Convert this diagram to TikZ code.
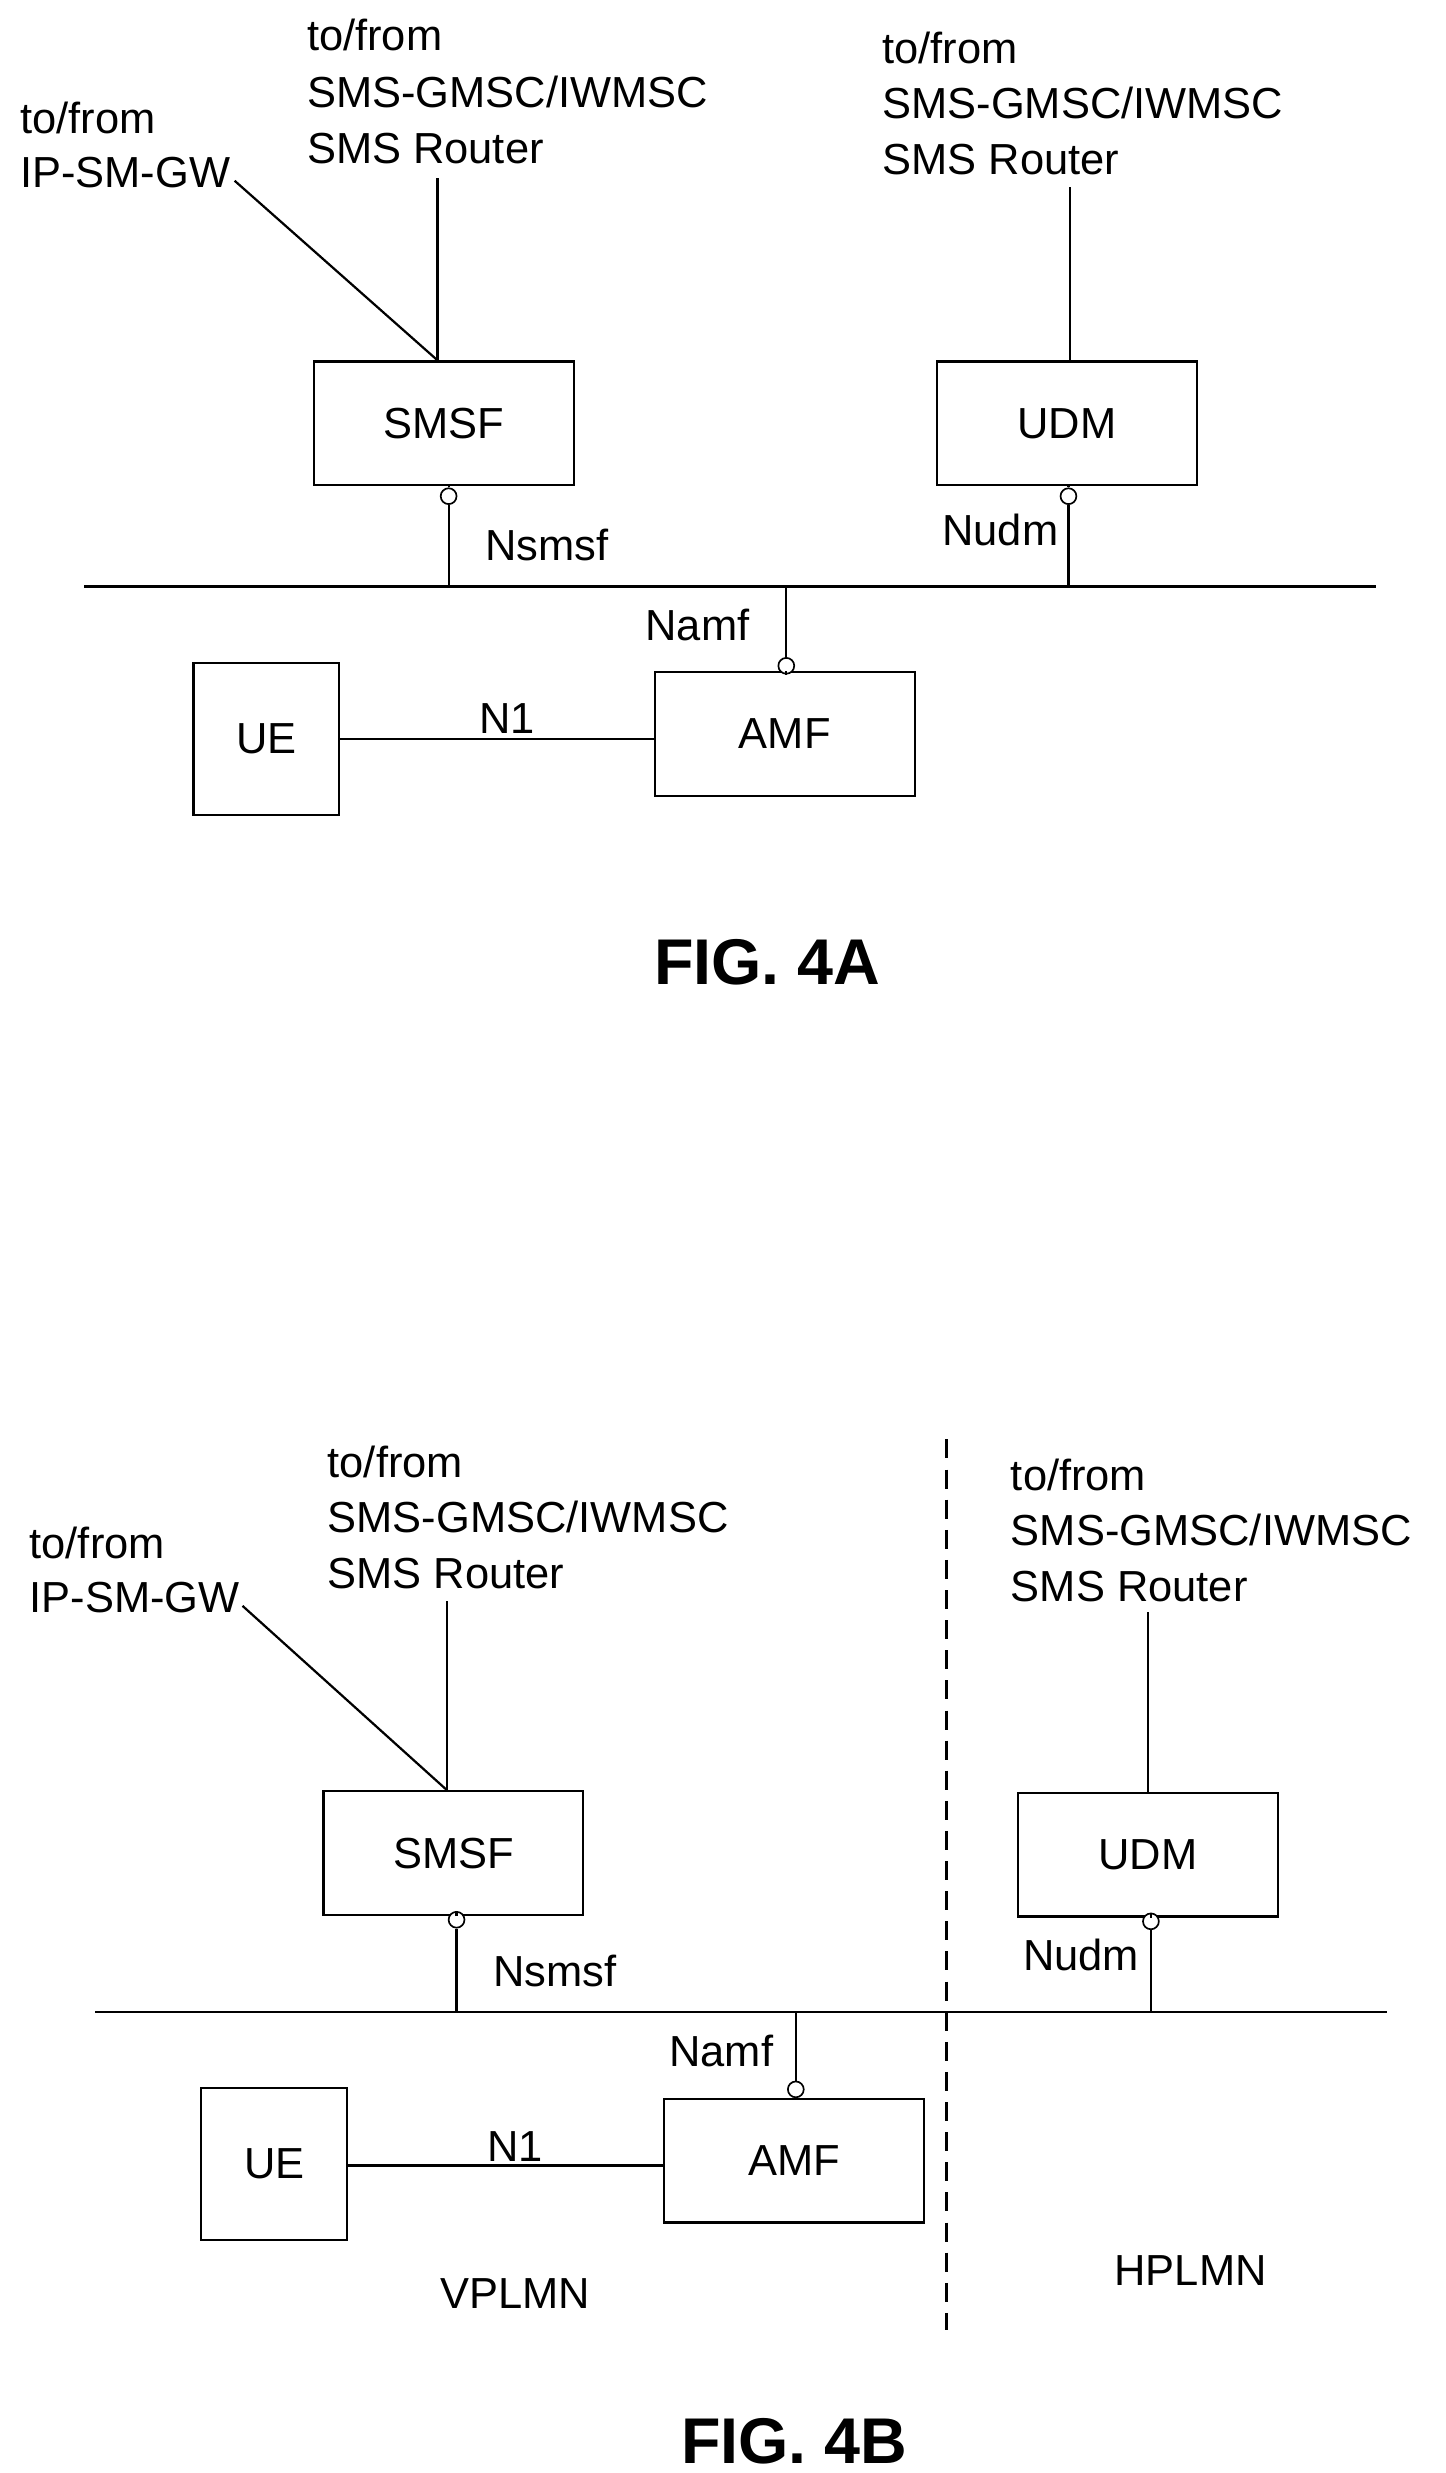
\documentclass[tikz,border=0pt]{standalone}
\usepackage{fontspec}
\setmainfont{Liberation Sans}
\begin{document}
\begin{tikzpicture}[x=0.05cm,y=-0.05cm,line width=2pt,
  box/.style={draw,minimum width=8.2cm,minimum height=3.9cm,font=\fontsize{39}{48}\selectfont},
  ue/.style={draw,minimum width=4.6cm,minimum height=4.8cm,font=\fontsize{39}{48}\selectfont},
  txt/.style={anchor=base west,inner sep=0,font=\fontsize{39}{48}\selectfont},
  lbl/.style={inner sep=0,font=\fontsize{39}{48}\selectfont},
  sock/.style={draw,circle,fill=white,minimum size=0.5cm,inner sep=0,line width=1.5pt},
  fig/.style={inner sep=0,font=\fontsize{58}{64}\selectfont\bfseries}]
\useasboundingbox (0,0) rectangle (912,1560);
% ---------- FIG 4A ----------
\node[txt] (a1) at (12,84) {to/from};
\node[txt] (a2) at (12,118) {IP-SM-GW};
\node[txt] (a3) at (193,32) {to/from};
\node[txt] (a4) at (193,68) {SMS-GMSC/IWMSC};
\node[txt] (a5) at (193,103) {SMS Router};
\node[txt] (a6) at (556,40) {to/from};
\node[txt] (a7) at (556,75) {SMS-GMSC/IWMSC};
\node[txt] (a8) at (556,110) {SMS Router};
\node[box] (smsfA) at (280,267) {SMSF};
\node[box] (udmA) at (673,267) {UDM};
\node[box] (amfA) at (495,463) {AMF};
\node[ue] (ueA) at (168,466) {UE};
\coordinate (tA1) at (276,112);
\coordinate (tA2) at (148,114);
\coordinate (tA3) at (675,118);
\draw (smsfA.north -| tA1) -- (tA1);
\draw (smsfA.north -| tA1) -- (tA2);
\draw (udmA.north -| tA3) -- (tA3);
\coordinate (busAl) at (53,370);
\coordinate (busAr) at (868,370);
\draw (busAl) -- (busAr);
\node[sock] (cA1) at (283,313) {};
\node[sock] (cA2) at (674,313) {};
\node[sock] (cA3) at (496,420) {};
\draw (smsfA.south -| cA1) -- (cA1.north);
\draw (cA1.south) -- (cA1 |- busAl);
\draw (udmA.south -| cA2) -- (cA2.north);
\draw (cA2.south) -- (cA2 |- busAl);
\draw (cA3.north) -- (cA3 |- busAl);
\draw (amfA.north -| cA3) -- (cA3.south);
\draw (ueA.east |- 0,466) -- (amfA.west |- 0,466);
\node[lbl] (n1A) at (320,453) {N1};
\node[lbl] (nsA) at (345,344) {Nsmsf};
\node[lbl] (nuA) at (631,334) {Nudm};
\node[lbl] (naA) at (440,394) {Namf};
\node[fig] (figA) at (484,607) {FIG. 4A};
% ---------- FIG 4B ----------
\node[txt] (b1) at (18,983) {to/from};
\node[txt] (b2) at (18,1017) {IP-SM-GW};
\node[txt] (b3) at (206,932) {to/from};
\node[txt] (b4) at (206,967) {SMS-GMSC/IWMSC};
\node[txt] (b5) at (206,1002) {SMS Router};
\node[txt] (b6) at (637,940) {to/from};
\node[txt] (b7) at (637,975) {SMS-GMSC/IWMSC};
\node[txt] (b8) at (637,1010) {SMS Router};
\node[box] (smsfB) at (286,1169) {SMSF};
\node[box] (udmB) at (724,1170) {UDM};
\node[box] (amfB) at (501,1363) {AMF};
\node[ue] (ueB) at (173,1365) {UE};
\coordinate (tB1) at (282,1010);
\coordinate (tB2) at (153,1013);
\coordinate (tB3) at (724,1017);
\draw (smsfB.north -| tB1) -- (tB1);
\draw (smsfB.north -| tB1) -- (tB2);
\draw (udmB.north -| tB3) -- (tB3);
\coordinate (busBl) at (60,1269);
\coordinate (busBr) at (875,1269);
\draw (busBl) -- (busBr);
\node[sock] (cB1) at (288,1211) {};
\node[sock] (cB2) at (726,1212) {};
\node[sock] (cB3) at (502,1318) {};
\draw (smsfB.south -| cB1) -- (cB1.north);
\draw (cB1.south) -- (cB1 |- busBl);
\draw (udmB.south -| cB2) -- (cB2.north);
\draw (cB2.south) -- (cB2 |- busBl);
\draw (cB3.north) -- (cB3 |- busBl);
\draw (amfB.north -| cB3) -- (cB3.south);
\draw (ueB.east |- 0,1366) -- (amfB.west |- 0,1366);
\node[lbl] (n1B) at (325,1354) {N1};
\node[lbl] (nsB) at (350,1243) {Nsmsf};
\node[lbl] (nuB) at (682,1233) {Nudm};
\node[lbl] (naB) at (455,1294) {Namf};
\coordinate (dT) at (597,908);
\coordinate (dB) at (597,1470);
\draw[dash pattern=on 0.6cm off 0.35cm] (dT) -- (dB);
\node[lbl] (vp) at (325,1447) {VPLMN};
\node[lbl] (hp) at (751,1432) {HPLMN};
\node[fig] (figB) at (501,1540) {FIG. 4B};
\end{tikzpicture}
\end{document}
